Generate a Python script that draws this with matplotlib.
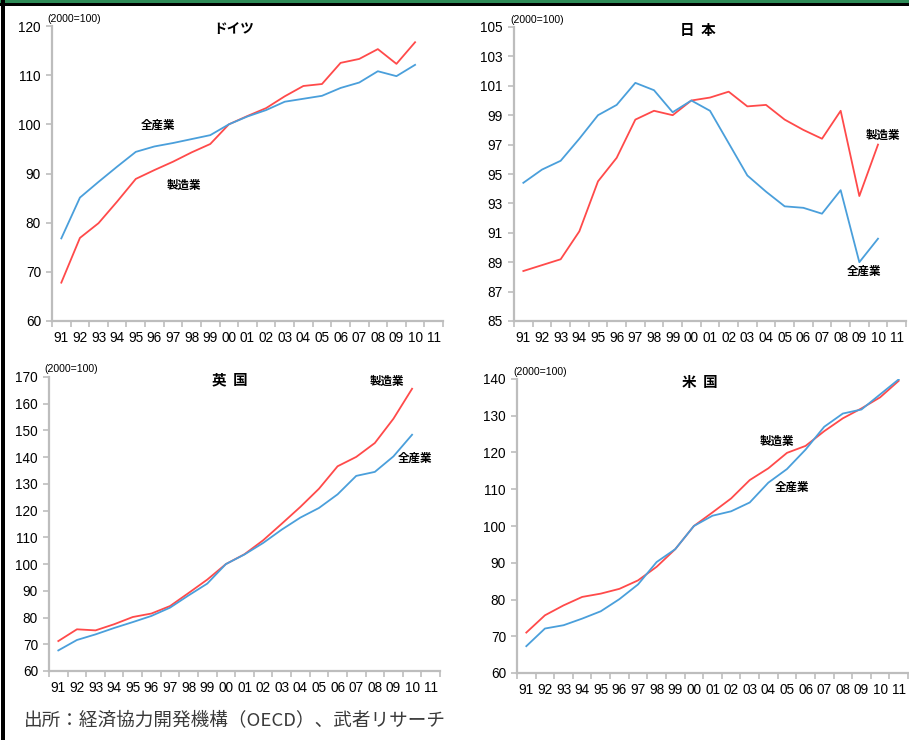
import matplotlib
matplotlib.use("Agg")
import matplotlib.pyplot as plt
from matplotlib.patches import Rectangle

W, H = 909, 740

years = ["91", "92", "93", "94", "95", "96", "97", "98", "99", "00", "01",
         "02", "03", "04", "05", "06", "07", "08", "09", "10", "11"]

# 労働生産性指数 (2000=100)
de_all = [76.8, 85.1, 88.3, 91.4, 94.4, 95.5, 96.2, 97.0, 97.8, 100.0, 101.6,
          102.9, 104.6, 105.2, 105.8, 107.4, 108.5, 110.8, 109.8, 112.1]
de_mfg = [67.8, 76.9, 79.9, 84.3, 88.9, 90.7, 92.4, 94.3, 96.0, 100.0, 101.7,
          103.3, 105.7, 107.8, 108.2, 112.5, 113.3, 115.3, 112.3, 116.7]

jp_all = [94.4, 95.3, 95.9, 97.4, 99.0, 99.7, 101.2, 100.7, 99.2, 100.0, 99.3,
          97.1, 94.9, 93.8, 92.8, 92.7, 92.3, 93.9, 89.0, 90.6]
jp_mfg = [88.4, 88.8, 89.2, 91.1, 94.5, 96.1, 98.7, 99.3, 99.0, 100.0, 100.2,
          100.6, 99.6, 99.7, 98.7, 98.0, 97.4, 99.3, 93.5, 97.0]

uk_all = [67.7, 71.6, 73.7, 76.1, 78.3, 80.6, 83.7, 88.3, 92.7, 100.0, 103.6,
          107.9, 112.9, 117.4, 121.0, 126.1, 133.0, 134.5, 140.3, 148.4]
uk_mfg = [71.2, 75.6, 75.2, 77.5, 80.2, 81.5, 84.3, 89.2, 94.2, 100.0, 103.7,
          108.9, 115.1, 121.4, 128.2, 136.6, 140.1, 145.3, 154.4, 165.6]

us_all = [67.3, 72.1, 73.0, 74.8, 76.8, 80.1, 84.1, 90.2, 93.7, 100.0, 102.8,
          104.0, 106.4, 111.8, 115.5, 120.8, 127.0, 130.6, 131.7, 135.8, 139.9]
us_mfg = [71.0, 75.7, 78.4, 80.7, 81.6, 82.9, 85.2, 88.9, 93.7, 100.0, 103.7,
          107.5, 112.5, 115.7, 119.9, 121.8, 125.8, 129.3, 132.0, 135.0, 139.5]

RED = "#FF4A4A"
BLUE = "#4A9FDB"
AXIS_GRAY = "#BDBDBD"
JP = ["Noto Sans CJK JP", "DejaVu Sans"]
NUM = ["Liberation Sans", "DejaVu Sans"]

fig = plt.figure(figsize=(W / 100, H / 100), dpi=100)
fig.patch.set_facecolor("white")


def px_axes(l, r, t, b):
    return fig.add_axes([l / W, 1 - b / H, (r - l) / W, (b - t) / H])


def ftext(x, y, s, **kw):
    fig.text(x / W, 1 - y / H, s, **kw)


def panel(box, ylim, ystep, title, title_size, title_xy, unit_xy,
          all_vals, mfg_vals, lab_all, lab_mfg):
    ax = px_axes(*box)
    n = len(years)
    ax.plot(range(len(mfg_vals)), mfg_vals, color=RED, lw=1.3, zorder=3)
    ax.plot(range(len(all_vals)), all_vals, color=BLUE, lw=1.3, zorder=3)
    ax.set_xlim(-0.5, n - 0.5)
    ax.set_ylim(*ylim)
    ax.set_xticks(range(n))
    ax.set_xticklabels(years)
    ax.set_xticks([i - 0.5 for i in range(n + 1)], minor=True)
    ax.tick_params(axis="x", which="major", length=0, pad=7, labelsize=9.8)
    ax.tick_params(axis="x", which="minor", length=4, width=1.2,
                   color=AXIS_GRAY, direction="out")
    yt = list(range(ylim[0], ylim[1] + 1, ystep))
    ax.set_yticks(yt)
    ax.tick_params(axis="y", length=4, width=1.2, color=AXIS_GRAY,
                   direction="out", labelsize=9.8, pad=4)
    for lab in ax.get_xticklabels() + ax.get_yticklabels():
        lab.set_family(NUM)
    for side in ("top", "right"):
        ax.spines[side].set_visible(False)
    for side in ("left", "bottom"):
        ax.spines[side].set_color(AXIS_GRAY)
        ax.spines[side].set_linewidth(1.6)
    ax.patch.set_visible(False)

    ftext(*title_xy, title, family=JP, fontsize=title_size,
          fontweight="bold", ha="center", va="center")
    ftext(*unit_xy, "(2000=100)", family=NUM, fontsize=7.6,
          ha="left", va="center")
    ftext(*lab_all, "全産業", family=JP, fontsize=8.3, fontweight="bold",
          ha="center", va="center")
    ftext(*lab_mfg, "製造業", family=JP, fontsize=8.3, fontweight="bold",
          ha="center", va="center")
    return ax


panel((52, 443, 26, 321), (60, 120), 10, "ドイツ", 9.8, (234, 29), (47, 19),
      de_all, de_mfg, (158, 125), (184, 185))
panel((514, 906, 27, 321), (85, 105), 2, "日  本", 10.5, (698, 30),
      (510, 20), jp_all, jp_mfg, (864, 271), (883, 135))
panel((49, 440, 377, 671), (60, 170), 10, "英  国", 10.5, (230, 379),
      (44, 369), uk_all, uk_mfg, (415, 458), (387, 381))
panel((517, 908, 379, 673), (60, 140), 10, "米  国", 10.5, (700, 382),
      (513, 372), us_all, us_mfg, (792, 487), (777, 441))

ftext(24, 720, "出所：経済協力開発機構（OECD）、武者リサーチ", family=JP,
      fontsize=13.4, color="#3A3A3A", ha="left", va="center")

# frame: green band with a black rule beneath, black border on the left
fig.add_artist(Rectangle((0, 1 - 3 / H), 1, 3 / H, transform=fig.transFigure,
                         facecolor="#2E8B57", edgecolor="none", zorder=10))
fig.add_artist(Rectangle((0, 1 - 5.5 / H), 1, 2.5 / H,
                         transform=fig.transFigure, facecolor="black",
                         edgecolor="none", zorder=10))
fig.add_artist(Rectangle((1 / W, 0), 3.5 / W, 1, transform=fig.transFigure,
                         facecolor="black", edgecolor="none", zorder=11))

fig.savefig("out.png", dpi=100)
